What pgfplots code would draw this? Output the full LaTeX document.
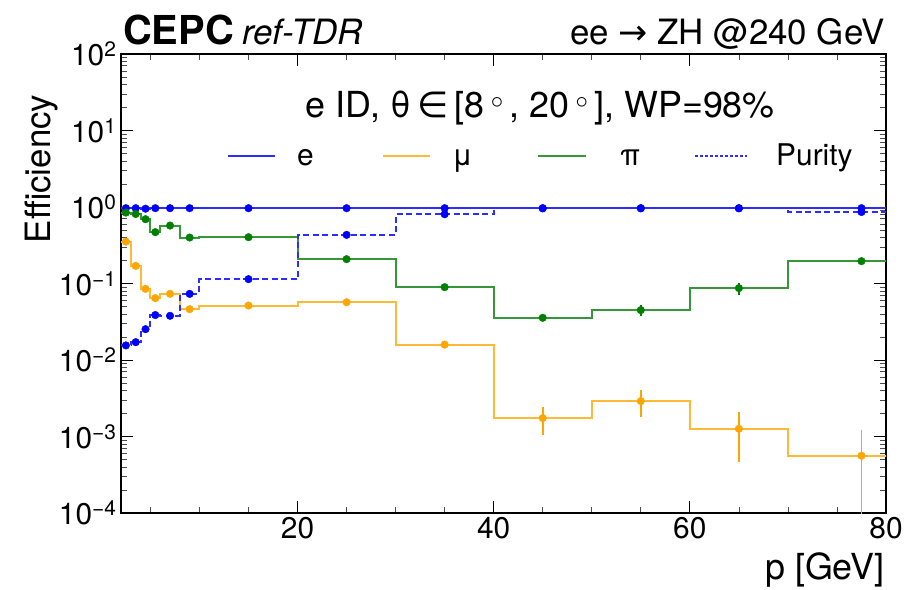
\documentclass[border=0pt]{standalone}
\usepackage{pgfplots}
\pgfplotsset{compat=1.18}
\usepackage{fontspec}
\setmainfont{TeX Gyre Heros}
\newfontfamily\symfont{DejaVu Sans}
\definecolor{eblue}{RGB}{0,0,255}
\definecolor{eline}{RGB}{45,45,255}
\definecolor{morange}{RGB}{255,165,0}
\definecolor{mline}{RGB}{255,185,55}
\definecolor{pgreen}{RGB}{0,128,0}
\definecolor{pline}{RGB}{55,150,55}

\pgfplotstableread{
x y
2 0.965
3 0.965
4 0.95
5 0.965
6 0.965
8 0.965
10 0.965
20 0.965
30 0.965
40 0.965
50 0.965
60 0.965
70 0.965
85 0.965
}\ehist
\pgfplotstableread{
x y ep em
2.5 0.965 0 0
3.5 0.965 0 0
4.5 0.95 0 0
5.5 0.965 0 0
7 0.965 0 0
9 0.965 0 0
15 0.965 0 0
25 0.965 0 0
35 0.965 0 0
45 0.965 0 0
55 0.965 0 0
65 0.965 0 0
77.5 0.965 0.02 0.02
}\epts
\pgfplotstableread{
x y
2 0.353
3 0.170
4 0.0851
5 0.0643
6 0.0733
8 0.0462
10 0.0515
20 0.057
30 0.0159
40 0.00174
50 0.0029
60 0.00126
70 0.00056
85 0.00056
}\mhist
\pgfplotstableread{
x y ep em
2.5 0.353 0 0
3.5 0.170 0 0
4.5 0.0851 0 0
5.5 0.0643 0 0
7 0.0733 0 0
9 0.0462 0 0
15 0.0515 0 0
25 0.057 0 0
35 0.0159 0.0004 0.0004
45 0.00174 0.0007 0.0007
55 0.0029 0.0011 0.0011
65 0.00126 0.0008 0.0008
77.5 0.00056 0.00066 0.00055
}\mpts
\pgfplotstableread{
x y
2 0.845
3 0.81
4 0.693
5 0.469
6 0.572
8 0.399
10 0.403
20 0.208
30 0.0896
40 0.0356
50 0.0449
60 0.0869
70 0.196
85 0.196
}\phist
\pgfplotstableread{
x y ep em
2.5 0.845 0 0
3.5 0.81 0 0
4.5 0.693 0 0
5.5 0.469 0 0
7 0.572 0 0
9 0.399 0 0
15 0.403 0 0
25 0.208 0 0
35 0.0896 0.003 0.003
45 0.0356 0.002 0.002
55 0.0449 0.007 0.007
65 0.0869 0.016 0.016
77.5 0.196 0.006 0.006
}\ppts
\pgfplotstableread{
x y
2 0.0155
3 0.0171
4 0.0253
5 0.0387
6 0.0378
8 0.0732
10 0.114
20 0.432
30 0.805
40 0.96
50 0.96
60 0.96
70 0.86
85 0.86
}\puhist
\pgfplotstableread{
x y ep em
2.5 0.0155 0 0
3.5 0.0171 0 0
4.5 0.0253 0 0
5.5 0.0387 0 0
7 0.0378 0 0
9 0.0732 0 0
15 0.114 0 0
25 0.432 0 0
35 0.805 0 0
45 0.96 0 0
55 0.96 0 0
65 0.96 0 0
77.5 0.86 0.02 0.02
}\pupts

\begin{document}
\begin{tikzpicture}[x=1bp,y=1bp]
\useasboundingbox (0,0) rectangle (905,590);
\begin{axis}[
  at={(121bp,77bp)}, anchor=south west,
  width=765bp, height=459bp, scale only axis,
  xmin=2, xmax=80, ymode=log, ymin=1e-4, ymax=1e2,
  xtick={20,40,60,80},
  minor xtick={5,10,15,25,30,35,45,50,55,65,70,75},
  ytick={1e-4,1e-3,1e-2,1e-1,1,10,100},
  yticklabels={10\textsuperscript{−4},10\textsuperscript{−3},10\textsuperscript{−2},10\textsuperscript{−1},10\textsuperscript{0},10\textsuperscript{1},10\textsuperscript{2}},
  /pgf/number format/assume math mode=true,
  tick align=inside,
  major tick length=12bp, minor tick length=6bp,
  axis line style={line width=1.6bp},
  major tick style={black, line width=0.9bp},
  minor tick style={black!70, line width=0.7bp},
  tick label style={font=\fontsize{30}{36}\selectfont},
  xticklabel style={yshift=-1bp},
  yticklabel style={xshift=-1bp},
  clip=true,
]
\addplot[const plot, line width=2bp, color=eline] table[x=x,y=y] {\ehist};
\addplot[const plot, line width=2bp, color=mline] table[x=x,y=y] {\mhist};
\addplot[const plot, line width=2bp, color=pline] table[x=x,y=y] {\phist};
\addplot[const plot, line width=2bp, color=eline, dash pattern=on 6bp off 3.5bp] table[x=x,y=y] {\puhist};

\addplot[only marks, mark=*, mark size=3.8bp, color=eblue,
  error bars/.cd, y dir=both, y explicit, error mark=none,
  error bar style={line width=1.6bp}]
  table[x=x,y=y,y error plus=ep,y error minus=em] {\epts};
\addplot[only marks, mark=*, mark size=3.8bp, color=morange,
  error bars/.cd, y dir=both, y explicit, error mark=none,
  error bar style={line width=1.6bp}]
  table[x=x,y=y,y error plus=ep,y error minus=em] {\mpts};
\addplot[only marks, mark=*, mark size=3.8bp, color=pgreen,
  error bars/.cd, y dir=both, y explicit, error mark=none,
  error bar style={line width=1.6bp}]
  table[x=x,y=y,y error plus=ep,y error minus=em] {\ppts};
\addplot[only marks, mark=*, mark size=3.8bp, color=eblue,
  error bars/.cd, y dir=both, y explicit, error mark=none,
  error bar style={line width=1.6bp}]
  table[x=x,y=y,y error plus=ep,y error minus=em] {\pupts};
\end{axis}

% header
\node[anchor=base west, inner sep=0pt] at (123,545) {\fontsize{40}{48}\selectfont\bfseries CEPC};
\node[anchor=base west, inner sep=0pt] at (242,545) {\fontsize{35}{42}\selectfont\itshape ref-TDR};
\node[anchor=base east, inner sep=0pt] at (885,545) {\fontsize{35}{42}\selectfont ee {\symfont →} ZH @240 GeV};
% annotation
\node[anchor=base west, inner sep=0pt] at (305,472) {\fontsize{36}{43}\selectfont e ID, θ\,{\symfont ∈}\,[8\,$^{\circ}$\,, 20\,$^{\circ}$\,], WP=98\%};
% legend
\draw[line width=2bp, eline] (228,434) -- (275,434);
\node[anchor=base west, inner sep=0pt] at (297,424) {\fontsize{30}{36}\selectfont e};
\draw[line width=2bp, mline] (383,434) -- (430,434);
\node[anchor=base west, inner sep=0pt] at (452,424) {\fontsize{30}{36}\selectfont μ};
\draw[line width=2bp, pline] (538,434) -- (586,434);
\node[anchor=base west, inner sep=0pt] at (620,424) {\fontsize{30}{36}\selectfont π};
\draw[line width=1.5bp, eline, dash pattern=on 3bp off 2bp] (695,434) -- (747,434);
\node[anchor=base west, inner sep=0pt] at (776,424) {\fontsize{30}{36}\selectfont Purity};
% axis titles
\node[anchor=base east, inner sep=0pt] at (885,10) {\fontsize{36}{43}\selectfont p [GeV]};
\node[anchor=base, rotate=90, inner sep=0pt] at (50,421) {\fontsize{35}{42}\selectfont Efficiency};
\end{tikzpicture}
\end{document}
